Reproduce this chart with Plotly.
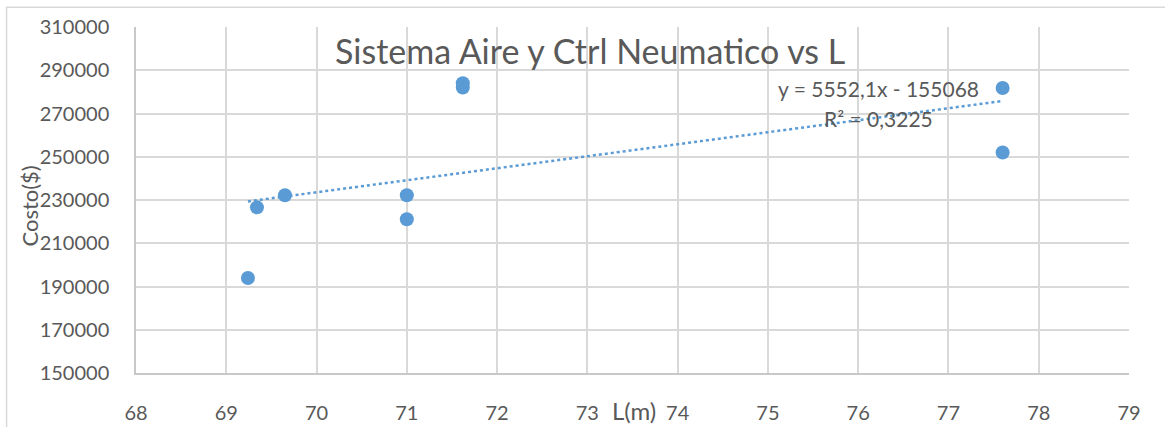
import numpy as np
import plotly.graph_objects as go

# Data
L_m = [69.24, 69.34, 69.65, 71.0, 71.0, 71.62, 71.62, 77.6, 77.6]
costo = [193900, 226600, 232200, 232200, 221100, 284000, 282000, 281800, 252000]

slope = 5552.1
intercept = -155068
r2_label = "R² = 0,3225"
eq_label = "y = 5552,1x - 155068"

title = "Sistema Aire y Ctrl Neumatico vs L"
x_title = "L(m)"
y_title = "Costo($)"
x_ticks = [68, 69, 70, 71, 72, 73, 74, 75, 76, 77, 78, 79]
y_ticks = [150000, 170000, 190000, 210000, 230000, 250000, 270000, 290000, 310000]

blue = "#5B9BD5"
grey = "#595959"
font = "Lato, Open Sans, sans-serif"

W, H = 1165, 427
ML, MR, MT, MB = 135.5, 36, 26.7, 53.7
PW, PH = W - ML - MR, H - MT - MB


def px(x):  # pixel -> paper x
    return (x - ML) / PW


def py(y):  # pixel -> paper y
    return 1 - (y - MT) / PH


tx = np.array([min(L_m), max(L_m)])
ty = slope * tx + intercept

fig = go.Figure()
fig.add_trace(go.Scatter(x=tx, y=ty, mode="lines",
                         line=dict(color=blue, width=2.5, dash="dot"),
                         hoverinfo="skip", showlegend=False))
fig.add_trace(go.Scatter(x=L_m, y=costo, mode="markers",
                         marker=dict(color=blue, size=14), showlegend=False))

fig.update_layout(
    width=W, height=H,
    margin=dict(l=ML, r=MR, t=MT, b=MB, autoexpand=False),
    paper_bgcolor="white", plot_bgcolor="white",
    font=dict(family=font, color=grey, size=20),
    shapes=[dict(type="rect", xref="paper", yref="paper",
                 x0=px(6), x1=px(W + 20), y0=py(H + 20), y1=py(7),
                 line=dict(color="#D9D9D9", width=1.5), layer="below")],
    annotations=[
        dict(text=title, x=px(590), y=py(50), xref="paper", yref="paper", showarrow=False,
             font=dict(size=34, color=grey, family=font), yanchor="middle", xanchor="center"),
        dict(text=eq_label, x=px(878), y=py(88), xref="paper", yref="paper", showarrow=False,
             font=dict(size=21, color=grey, family=font), yanchor="middle", xanchor="center"),
        dict(text=r2_label, x=px(878), y=py(118), xref="paper", yref="paper", showarrow=False,
             font=dict(size=21, color=grey, family=font), yanchor="middle", xanchor="center"),
        dict(text=y_title, x=px(29), y=py(206), xref="paper", yref="paper",
             textangle=-90, showarrow=False, font=dict(size=22, color=grey, family=font),
             xanchor="center", yanchor="middle"),
        dict(text=x_title, x=px(634), y=py(411), xref="paper", yref="paper", showarrow=False,
             font=dict(size=24, color=grey, family=font), yanchor="middle", xanchor="center"),
    ],
)

fig.update_xaxes(range=[68, 79], tickvals=x_ticks, ticktext=[str(v) for v in x_ticks],
                 showgrid=True, gridcolor="#D9D9D9", gridwidth=1.5,
                 showline=True, linecolor="#C8C8C8", linewidth=1.5, mirror=False,
                 zeroline=False, ticks="", ticklabelstandoff=21, automargin=False,
                 tickfont=dict(size=20, color=grey, family=font))
fig.update_yaxes(range=[150000, 310000], tickvals=y_ticks, ticktext=[str(v) for v in y_ticks],
                 showgrid=True, gridcolor="#D9D9D9", gridwidth=1.5,
                 showline=True, linecolor="#C8C8C8", linewidth=1.5,
                 zeroline=False, ticks="", ticklabelstandoff=21, automargin=False,
                 tickfont=dict(size=20, color=grey, family=font))

fig.write_html("out.html", config={"displayModeBar": False},
               post_script="document.body.style.margin='0';document.body.style.padding='0';")
